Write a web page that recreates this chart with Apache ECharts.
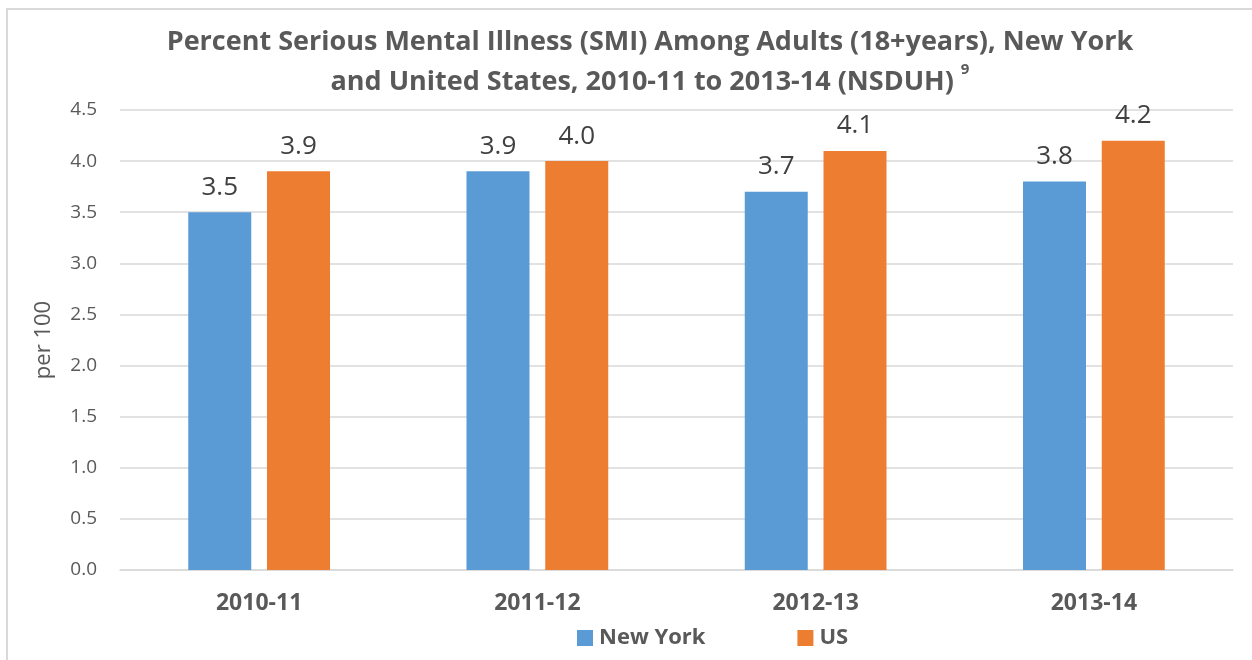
<!DOCTYPE html>
<html>
<head>
<meta charset="utf-8">
<script src="https://cdn.jsdelivr.net/npm/echarts@6/dist/echarts.min.js"></script>
<style>
  html, body { margin: 0; padding: 0; background: #fff; }
  #frame { position: absolute; left: 6px; top: 8px; width: 1260px; height: 670px; border: 2px solid #d9d9d9; box-sizing: border-box; }
  #chart { position: absolute; left: 0; top: 0; width: 1252px; height: 660px; }
</style>
</head>
<body>
<div id="frame"></div>
<div id="chart"></div>
<script>
// values
const years = ['2010-11', '2011-12', '2012-13', '2013-14']
const newYork = [3.5, 3.9, 3.7, 3.8]
const us = [3.9, 4.0, 4.1, 4.2]

const textColor = '#595959'
const fontFamily = '"Open Sans", "Liberation Sans", sans-serif'

let chart = echarts.init(document.getElementById('chart'))

const option = {
  textStyle: { fontFamily: fontFamily },
  title: {
    text: '{t|Percent Serious Mental Illness (SMI) Among Adults (18+years), New York}\n{t|and United States, 2010-11 to 2013-14 (NSDUH) }{s|9}',
    left: 650,
    top: 22,
    textAlign: 'center',
    padding: 0,
    textStyle: {
      rich: {
        t: { fontSize: 27, fontWeight: 'bold', color: textColor, fontFamily: fontFamily, lineHeight: 40 },
        s: { fontSize: 15, fontWeight: 'bold', color: textColor, fontFamily: fontFamily, verticalAlign: 'top', padding: [0, 0, 16, 0] }
      }
    }
  },
  legend: {
    left: 572,
    top: 622,
    itemWidth: 16,
    itemHeight: 16,
    itemGap: 92,
    icon: 'rect',
    textStyle: { fontSize: 22, fontWeight: 'bold', color: textColor, padding: [0, 0, 0, 1] },
    data: ['New York', 'US']
  },
  grid: {
    left: 120,
    right: 19,
    top: 110,
    bottom: 90
  },
  xAxis: {
    type: 'category',
    data: years,
    axisTick: { show: false },
    axisLine: { lineStyle: { color: '#d9d9d9', width: 1.5 } },
    axisLabel: { fontSize: 23, fontWeight: 'bold', color: textColor, margin: 22 }
  },
  yAxis: {
    type: 'value',
    min: 0,
    max: 4.5,
    interval: 0.5,
    name: 'per 100',
    nameLocation: 'middle',
    nameGap: 65,
    nameTextStyle: { fontSize: 22, color: textColor },
    axisLabel: {
      fontSize: 19,
      color: textColor,
      margin: 23,
      formatter: function (v) { return v.toFixed(1) }
    },
    splitLine: { lineStyle: { color: '#d9d9d9', width: 1.5 } }
  },
  series: [
    {
      name: 'New York',
      type: 'bar',
      data: newYork,
      barWidth: 63,
      barGap: '25%',
      itemStyle: { color: '#5b9bd5' },
      label: {
        show: true,
        position: 'top',
        distance: 12,
        fontSize: 26,
        color: '#404040',
        formatter: function (p) { return p.value.toFixed(1) }
      }
    },
    {
      name: 'US',
      type: 'bar',
      data: us,
      barWidth: 63,
      itemStyle: { color: '#ed7d31' },
      label: {
        show: true,
        position: 'top',
        distance: 12,
        fontSize: 26,
        color: '#404040',
        formatter: function (p) { return p.value.toFixed(1) }
      }
    }
  ]
}

chart.setOption(option, true)
</script>
</body>
</html>
